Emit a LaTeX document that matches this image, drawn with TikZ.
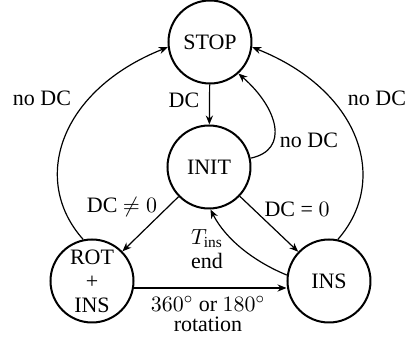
\documentclass[tikz,border=0pt]{standalone}
\usepackage{fontspec}
\setmainfont{Liberation Serif}
\usetikzlibrary{arrows.meta}
\begin{document}
\begin{tikzpicture}[x=0.5pt,y=-0.5pt,
  every node/.style={font=\fontsize{11}{12}\selectfont},
  state/.style={circle,draw,line width=1pt,minimum size=41.5pt,inner sep=0pt,align=center},
  lbl/.style={inner sep=0pt,align=center},
  tr/.style={line width=0.6pt,-{Stealth[length=4.5pt,width=3.6pt]}}]
\useasboundingbox (0,0) rectangle (409,337);
\node[state] (stop) at (210,42) {STOP};
\node[state] (init) at (209,167) {INIT};
\node[state] (rot) at (92,281) {ROT\\+\\INS};
\node[state] (ins) at (329,281) {INS};
% edges
\draw[tr] (stop) -- (init);
\draw[tr] (init.12) .. controls (290,150) and (278,108) .. (stop.-48);
\draw[tr] (rot.102) .. controls (30,180) and (60,90) .. (stop.187);
\draw[tr] (ins.78) .. controls (390,180) and (360,90) .. (stop.-7);
\draw[tr] (init) -- (rot);
\draw[tr] (init) -- (ins);
\draw[tr] (ins.172) .. controls (255,262) and (226,240) .. (init.-88);
\draw[tr] (rot.east |- 0,288) -- (ins.west |- 0,288);
% labels
\node[lbl] (l1) at (184,100) {DC};
\node[lbl] (l2) at (42,98) {no DC};
\node[lbl] (l3) at (377,98) {no DC};
\node[lbl] (l4) at (309,140) {no DC};
\node[lbl] (l5) at (122,207) {DC $\neq 0$};
\node[lbl] (l6) at (297,209) {DC = $0$};
\node[lbl] (l7) at (207,249) {$T_{\mathrm{ins}}$\\end};
\node[lbl] (l8) at (208,314) {$360^\circ$ or $180^\circ$\\[-2pt]rotation};
\end{tikzpicture}
\end{document}
